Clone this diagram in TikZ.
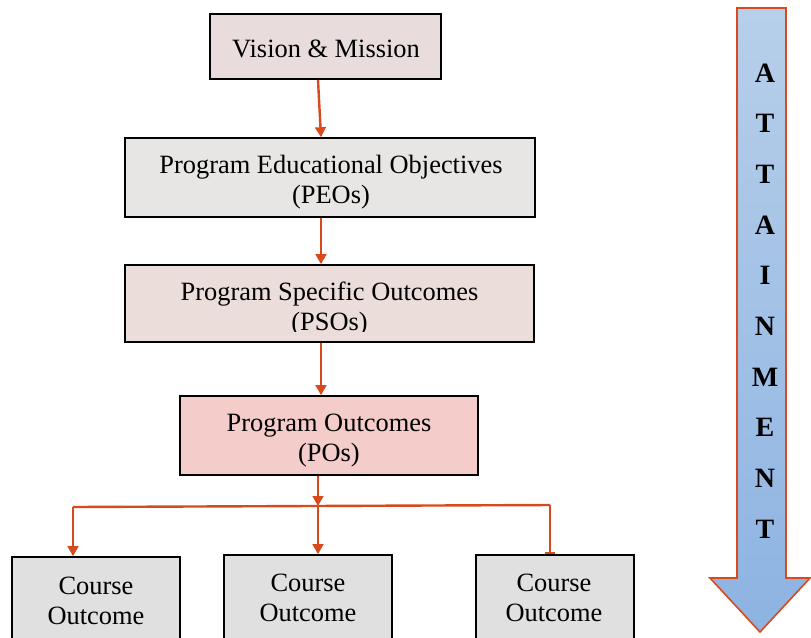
\documentclass[tikz,border=0pt]{standalone}
\usepackage{fontspec}
\setmainfont{Liberation Serif}
\usetikzlibrary{arrows.meta}
\definecolor{conn}{HTML}{D84A1B}
\definecolor{vmfill}{HTML}{E8DCDC}
\definecolor{peofill}{HTML}{E7E6E5}
\definecolor{psofill}{HTML}{EBDDDA}
\definecolor{pofill}{HTML}{F4CDCA}
\definecolor{cofill}{HTML}{E1E0E1}
\definecolor{artop}{HTML}{B7CFEA}
\definecolor{arbot}{HTML}{8DB3E2}
\tikzset{
  boxs/.style={draw=black, line width=1.2pt, inner sep=0pt},
  txt/.style={inner sep=0pt, align=center, font=\fontsize{19.8}{22.5}\selectfont},
  connl/.style={draw=conn, line width=1.8pt},
  arr/.style={connl, -{Triangle[width=8pt,length=7.5pt]}},
  letter/.style={inner sep=0pt, font=\fontsize{21}{21}\selectfont\bfseries},
}
\begin{document}
\begin{tikzpicture}[x=0.75pt, y=-0.75pt]
\useasboundingbox (0,0) rectangle (811,637);
% boxes
\node[boxs, fill=vmfill, minimum width=231*0.75pt, minimum height=65*0.75pt] (vm) at (325.5,46.5) {};
\node[txt] (vmt) at (326,48.5) {Vision \& Mission};
\node[boxs, fill=peofill, minimum width=410*0.75pt, minimum height=79*0.75pt] (peo) at (330,177.5) {};
\node[txt] (peot) at (331,182.5) {Program Educational Objectives\\(PEOs)};
\node[boxs, fill=psofill, minimum width=409*0.75pt, minimum height=77*0.75pt] (pso) at (329.5,303.5) {};
\begin{scope}
  \clip (125,265) rectangle (534,331);
  \node[txt] (psot) at (329.5,309) {Program Specific Outcomes\\(PSOs)};
\end{scope}
\node[boxs, fill=pofill, minimum width=298*0.75pt, minimum height=79*0.75pt] (po) at (329,435.5) {};
\node[txt] (pot) at (329,441) {Program Outcomes\\(POs)};
% course outcome boxes (extend past bottom edge)
\node[boxs, fill=cofill, minimum width=168*0.75pt, minimum height=100*0.75pt] (co1) at (96,607) {};
\node[boxs, fill=cofill, minimum width=168*0.75pt, minimum height=102*0.75pt] (co2) at (308,606) {};
\node[boxs, fill=cofill, minimum width=158*0.75pt, minimum height=102*0.75pt] (co3) at (555,606) {};
\node[txt] (co1t) at (96,601) {Course\\Outcome};
\node[txt] (co2t) at (308,598) {Course\\Outcome};
\node[txt] (co3t) at (554,598) {Course\\Outcome};
% connectors
\coordinate (ax) at (321,0);
\coordinate (bx) at (318,0);
\coordinate (jl) at (73,507);
\coordinate (jm) at (318,506);
\coordinate (jr) at (550,505);
\draw[arr] (vm.south -| bx) -- (peo.north -| ax);
\draw[arr] (peo.south -| ax) -- (pso.north -| ax);
\draw[arr] (pso.south -| ax) -- (po.north -| ax);
\draw[arr] (po.south -| bx) -- (jm);
\draw[connl] (jl) -- (jr);
\draw[arr] (jl) -- (co1.north -| jl);
\draw[arr] (jm) -- (co2.north -| jm);
\draw[connl, -{Bar[width=7pt]}] (jr) -- (co3.north -| jr);
% attainment arrow
\path[draw=conn, line width=1.2pt, top color=artop, bottom color=arbot, line join=miter]
  (737,8) -- (786,8) -- (786,578) -- (810,578) -- (760,632) -- (710,578) -- (737,578) -- cycle;
\foreach \L [count=\i from 0] in {A,T,T,A,I,N,M,E,N,T}
  \node[letter] (l\i) at (765,{73+50.65*\i}) {\L};
\end{tikzpicture}
\end{document}
